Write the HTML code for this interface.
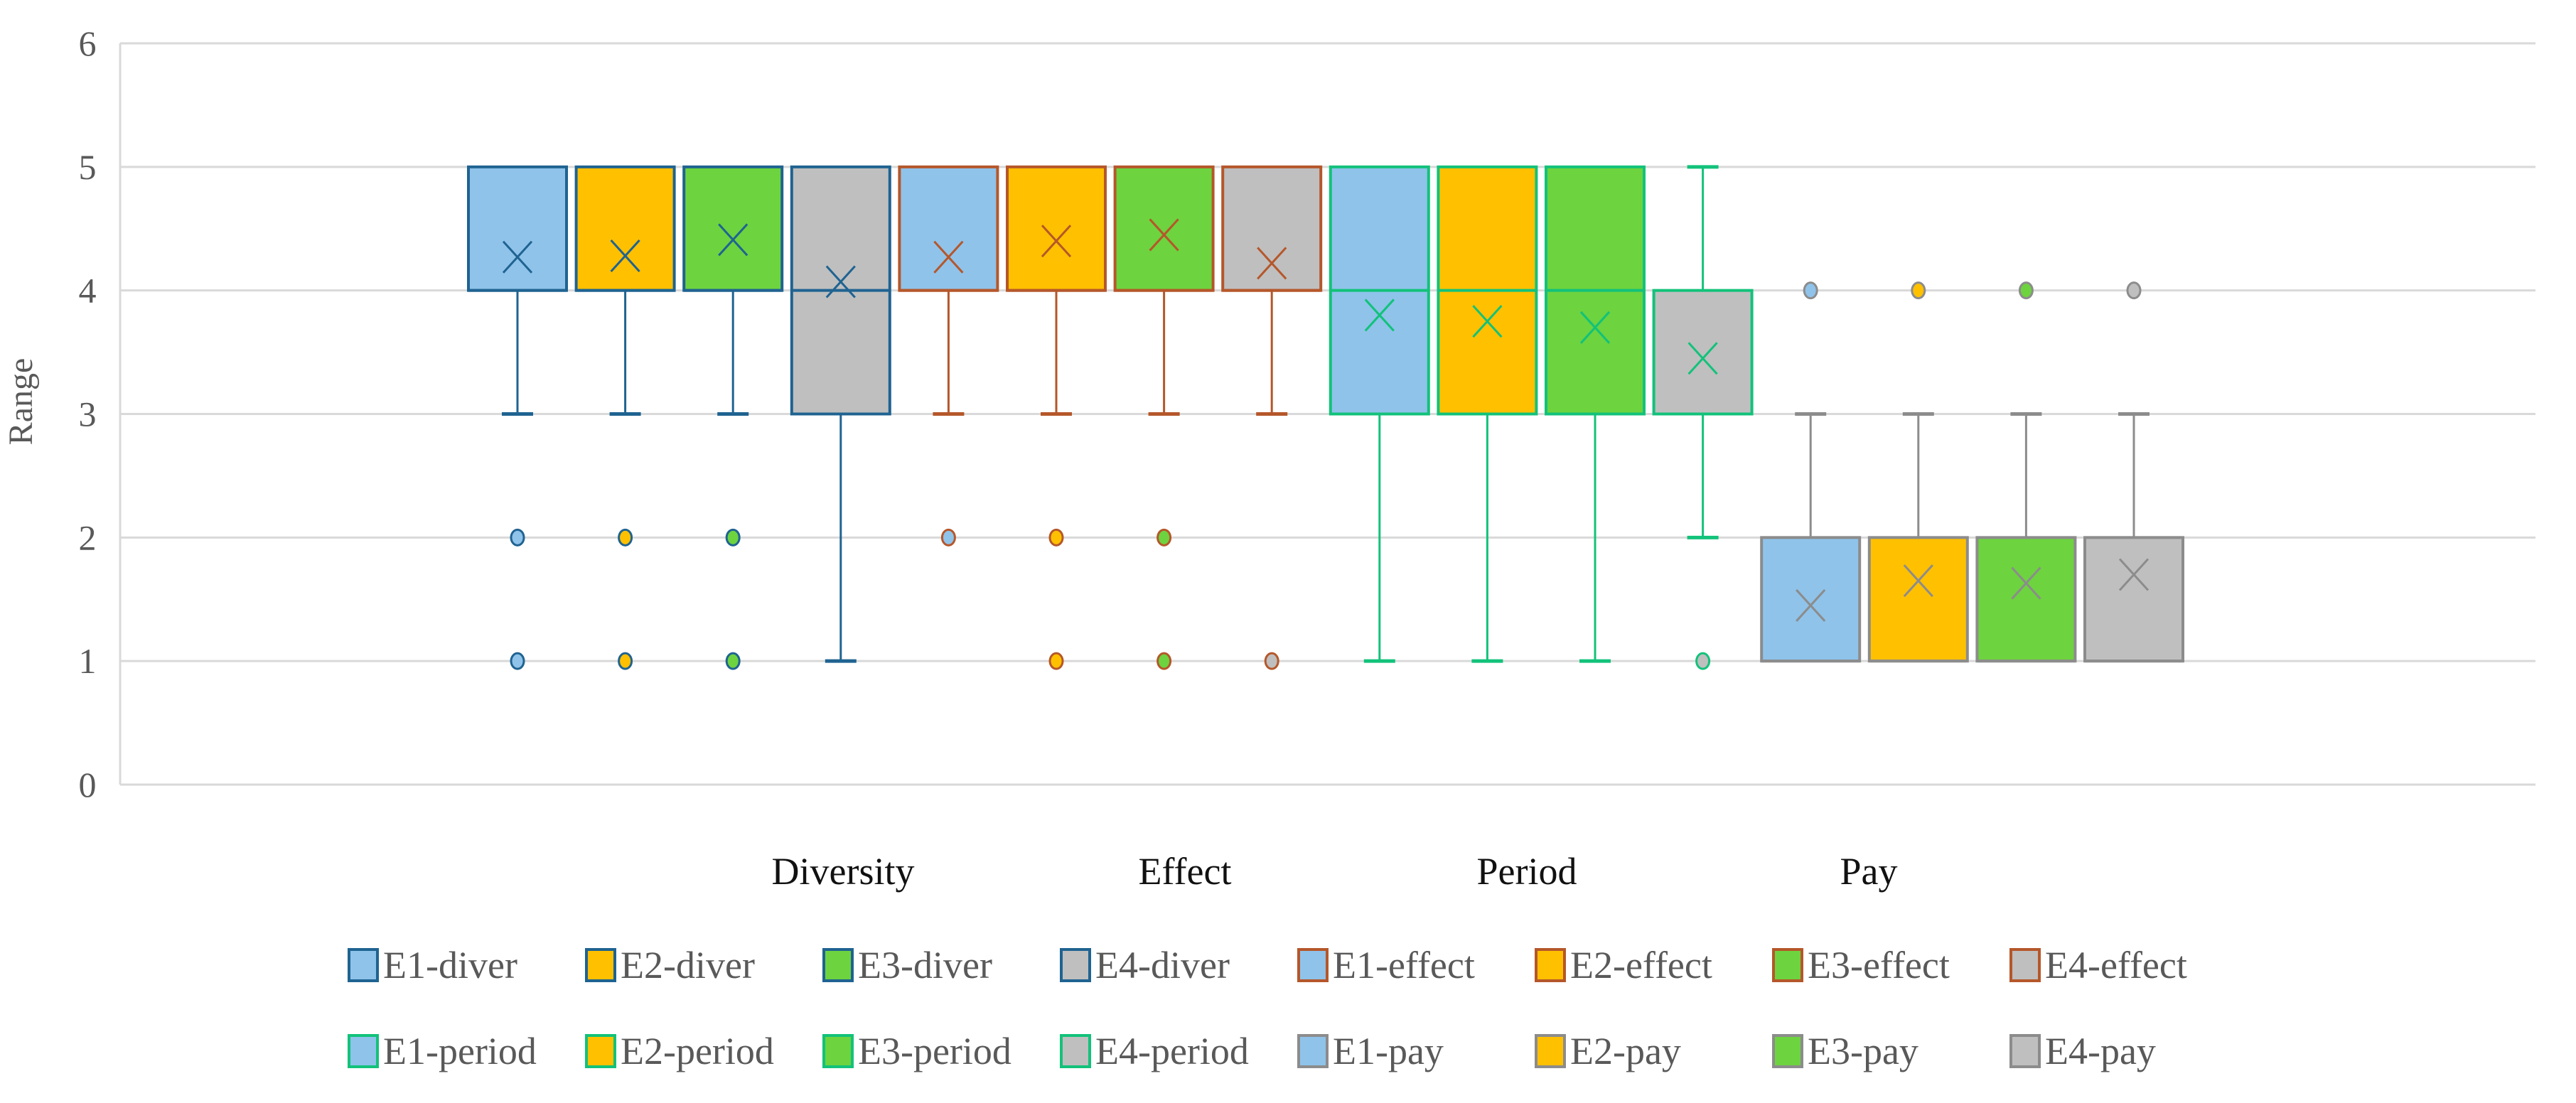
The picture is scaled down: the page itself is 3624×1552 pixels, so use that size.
<!DOCTYPE html>
<html><head><meta charset="utf-8">
<style>
html,body{margin:0;padding:0;background:#fff;}
svg{display:block;}
</style></head>
<body>
<svg id="chart" width="3624" height="1552" viewBox="0 0 3624 1552" xmlns="http://www.w3.org/2000/svg">
<rect x="0" y="0" width="3624" height="1552" fill="#fff"/>
<g id="grid"></g>
<g id="yticks"></g>
<text x="45" y="565" transform="rotate(-90 45 565)" text-anchor="middle" font-family="Liberation Serif, serif" font-size="48" fill="#595959">Range</text>
<g id="boxes"></g>
<g id="cats"></g>
<g id="legend"></g>
</svg>
<script>
const seriesNames = ["E1-diver","E2-diver","E3-diver","E4-diver","E1-effect","E2-effect","E3-effect","E4-effect","E1-period","E2-period","E3-period","E4-period","E1-pay","E2-pay","E3-pay","E4-pay"];
const whiskerLow = [3,3,3,1, 3,3,3,3, 1,1,1,2, 1,1,1,1];
const q1Values   = [4,4,4,3, 4,4,4,4, 3,3,3,3, 1,1,1,1];
const medians    = [4,4,4,4, 4,4,4,4, 4,4,4,3, 1,1,1,1];
const q3Values   = [5,5,5,5, 5,5,5,5, 5,5,5,4, 2,2,2,2];
const whiskerHigh= [5,5,5,5, 5,5,5,5, 5,5,5,5, 3,3,3,3];
const means      = [4.27,4.28,4.41,4.07, 4.27,4.4,4.45,4.22, 3.8,3.75,3.7,3.45, 1.45,1.65,1.63,1.7];
const outliers   = [[2,1],[2,1],[2,1],[], [2],[2,1],[2,1],[1], [],[],[],[1], [4],[4],[4],[4]];
const categories = ["Diversity","Effect","Period","Pay"];
const yTicks = [0,1,2,3,4,5,6];

const fills = ["#8FC3EA","#FFC000","#6DD33F","#BFBFBF"];
const strokes = ["#1F6391","#B5572A","#12C27A","#8C8C8C"];
const NS="http://www.w3.org/2000/svg";
const X0=169, X1=3567, Y0=1104, Y6=61;
function yS(v){return Y0-(v/6)*(Y0-Y6);}
function xS(i){return 728+i*151.6;}
function catX(c){return 1186+c*481;}
function mk(tag,attrs,parent){const e=document.createElementNS(NS,tag);for(const k in attrs)e.setAttribute(k,attrs[k]);parent.appendChild(e);return e;}

const grid=document.getElementById('grid');
yTicks.forEach(t=>{
  const l=mk('line',{x1:X0,x2:X1,y1:yS(t),y2:yS(t),stroke:'#D9D9D9','stroke-width':3},grid);
  
  
});
const ax=mk('line',{x1:X0,x2:X0,y1:Y6,y2:Y0,stroke:'#D9D9D9','stroke-width':3},grid);



const yt=document.getElementById('yticks');
yTicks.forEach(t=>{
  const e=mk('text',{x:123,y:yS(t)+17,'text-anchor':'middle','font-family':'Liberation Serif, serif','font-size':50,fill:'#595959'},yt);
  e.textContent=t;
  
  
});

const bx=document.getElementById('boxes');
const BW=138, CAP=44;
seriesNames.forEach((n,i)=>{
  const g=mk('g',{},bx);
  
  
  const cx=xS(i), st=strokes[Math.floor(i/4)], fl=fills[i%4];
  if(whiskerLow[i]<q1Values[i]){
    mk('line',{x1:cx,x2:cx,y1:yS(q1Values[i]),y2:yS(whiskerLow[i]),stroke:st,'stroke-width':3},g);
    mk('line',{x1:cx-CAP/2,x2:cx+CAP/2,y1:yS(whiskerLow[i]),y2:yS(whiskerLow[i]),stroke:st,'stroke-width':5},g);
  }
  if(whiskerHigh[i]>q3Values[i]){
    mk('line',{x1:cx,x2:cx,y1:yS(q3Values[i]),y2:yS(whiskerHigh[i]),stroke:st,'stroke-width':3},g);
    mk('line',{x1:cx-CAP/2,x2:cx+CAP/2,y1:yS(whiskerHigh[i]),y2:yS(whiskerHigh[i]),stroke:st,'stroke-width':5},g);
  }
  mk('rect',{x:cx-BW/2,y:yS(q3Values[i]),width:BW,height:yS(q1Values[i])-yS(q3Values[i]),fill:fl,stroke:st,'stroke-width':4},g);
  mk('line',{x1:cx-BW/2,x2:cx+BW/2,y1:yS(medians[i]),y2:yS(medians[i]),stroke:st,'stroke-width':4},g);
  const my=yS(means[i]);
  mk('path',{d:`M${cx-20} ${my-22} L${cx+20} ${my+22} M${cx+20} ${my-22} L${cx-20} ${my+22}`,stroke:st,'stroke-width':3,fill:'none'},g);
  outliers[i].forEach(o=>{
    const c=mk('ellipse',{cx:cx,cy:yS(o),rx:9,ry:11,fill:fl,stroke:st,'stroke-width':3},g);
    
    
  });
});

const cg=document.getElementById('cats');
categories.forEach((c,k)=>{
  const e=mk('text',{x:catX(k),y:1244,'text-anchor':'middle','font-family':'Liberation Serif, serif','font-size':54,fill:'#111'},cg);
  e.textContent=c;
  
  
});

const lg=document.getElementById('legend');
seriesNames.forEach((n,i)=>{
  const row=Math.floor(i/8), col=i%8;
  const x=511+col*334, y=1336+row*121;
  const g=mk('g',{},lg);
  
  
  mk('rect',{x:x-20,y:y,width:40,height:44,fill:fills[i%4],stroke:strokes[Math.floor(i/4)],'stroke-width':4},g);
  const t=mk('text',{x:x+28,y:y+40,'font-family':'Liberation Serif, serif','font-size':54,fill:'#595959'},g);
  t.textContent=n;
});
</script>
</body></html>
